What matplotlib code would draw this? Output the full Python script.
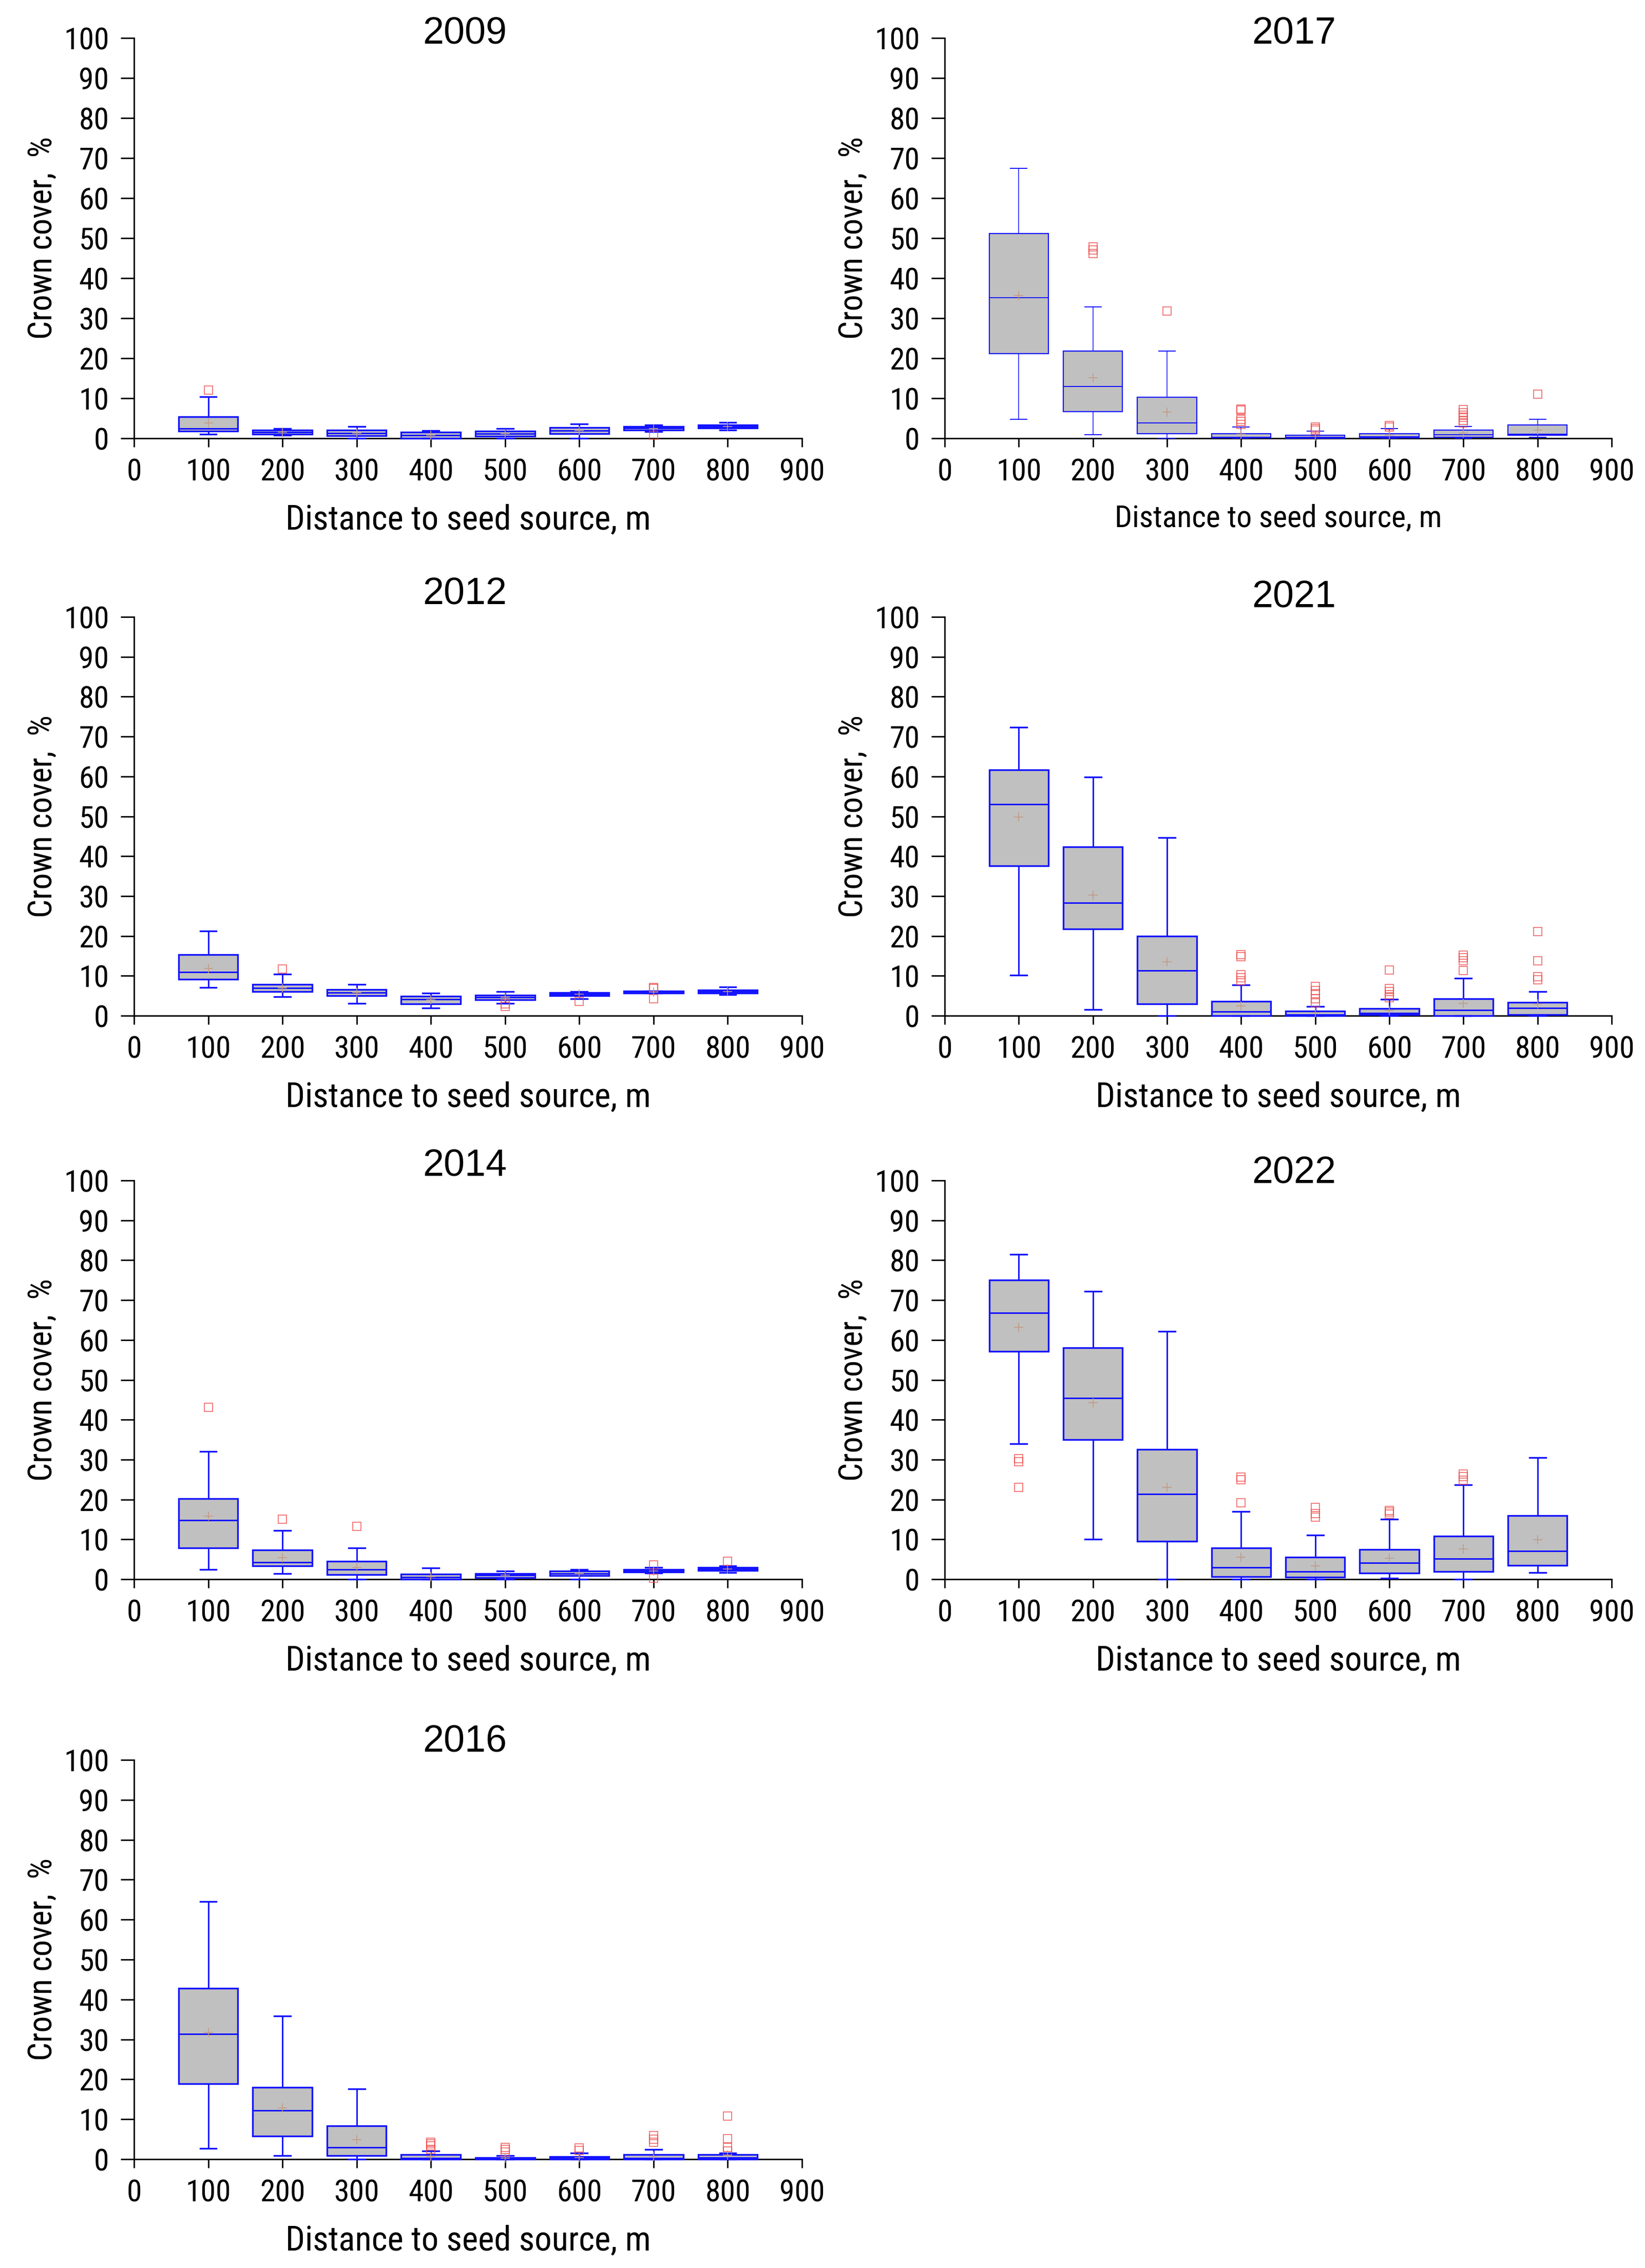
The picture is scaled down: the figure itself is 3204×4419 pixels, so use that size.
import matplotlib
matplotlib.use("Agg")
import matplotlib.pyplot as plt
from matplotlib import font_manager

# distance classes (m)
DIST = [100, 200, 300, 400, 500, 600, 700, 800]

# crown cover (%) box statistics, one list per year
Q1 = {
    2009: [1.8, 1.0, 0.7, 0.0, 0.5, 1.2, 2.1, 2.6],
    2012: [9.1, 6.0, 5.0, 3.0, 4.0, 5.0, 5.6, 5.6],
    2014: [7.9, 3.4, 1.2, 0.0, 0.4, 0.9, 1.8, 2.2],
    2016: [18.9, 5.8, 0.9, 0.0, 0.0, 0.0, 0.0, 0.0],
    2017: [21.1, 6.7, 1.1, 0.1, 0.0, 0.1, 0.3, 0.8],
    2021: [37.6, 21.8, 3.0, 0.0, 0.0, 0.2, 0.0, 0.3],
    2022: [57.1, 35.0, 9.5, 0.7, 0.5, 1.6, 1.9, 3.5],
}
MEDIAN = {
    2009: [2.4, 1.5, 1.3, 0.8, 1.1, 1.9, 2.6, 3.0],
    2012: [10.9, 7.0, 5.8, 4.1, 4.6, 5.4, 5.9, 6.0],
    2014: [14.8, 4.3, 2.4, 0.5, 1.0, 1.4, 2.2, 2.6],
    2016: [31.3, 12.2, 2.9, 0.3, 0.1, 0.2, 0.3, 0.4],
    2017: [35.1, 12.9, 3.8, 0.3, 0.2, 0.4, 0.9, 1.0],
    2021: [53.0, 28.3, 11.3, 1.0, 0.3, 0.6, 1.4, 1.9],
    2022: [66.8, 45.4, 21.3, 3.0, 1.9, 4.1, 5.2, 7.1],
}
Q3 = {
    2009: [5.4, 2.0, 2.0, 1.5, 1.8, 2.7, 3.0, 3.3],
    2012: [15.3, 7.9, 6.5, 4.9, 5.1, 5.8, 6.2, 6.4],
    2014: [20.2, 7.4, 4.5, 1.3, 1.4, 2.0, 2.5, 3.0],
    2016: [42.8, 18.0, 8.3, 1.1, 0.4, 0.6, 1.1, 1.1],
    2017: [51.2, 21.8, 10.2, 1.2, 0.8, 1.2, 2.0, 3.3],
    2021: [61.6, 42.4, 19.9, 3.6, 1.2, 1.8, 4.3, 3.3],
    2022: [75.0, 58.1, 32.6, 7.9, 5.5, 7.5, 10.8, 16.0],
}
WHISK_LO = {
    2009: [1.0, 0.8, 0.0, 0.0, 0.0, 0.0, 1.7, 2.0],
    2012: [7.1, 4.7, 3.1, 1.9, 3.1, 4.3, 5.6, 5.3],
    2014: [2.4, 1.4, 0.0, 0.0, 0.0, 0.0, 1.6, 1.7],
    2016: [2.7, 0.9, 0.0, 0.0, 0.0, 0.0, 0.0, 0.0],
    2017: [4.8, 0.9, 0.0, 0.0, 0.0, 0.0, 0.0, 0.2],
    2021: [10.2, 1.6, 0.0, 0.0, 0.0, 0.0, 0.0, 0.0],
    2022: [34.0, 10.0, 0.0, 0.0, 0.0, 0.3, 0.0, 1.7],
}
WHISK_HI = {
    2009: [10.4, 2.4, 2.9, 1.9, 2.4, 3.6, 3.3, 4.0],
    2012: [21.2, 10.4, 7.8, 5.6, 6.0, 6.0, 6.2, 7.2],
    2014: [32.0, 12.2, 7.9, 2.8, 2.0, 2.4, 2.9, 3.3],
    2016: [64.5, 35.9, 17.6, 2.1, 0.9, 1.5, 2.4, 1.6],
    2017: [67.4, 32.8, 21.8, 2.8, 1.8, 2.4, 3.0, 4.8],
    2021: [72.3, 59.8, 44.7, 7.7, 2.3, 4.1, 9.4, 6.0],
    2022: [81.5, 72.2, 62.1, 17.0, 11.1, 15.0, 23.7, 30.5],
}
MEAN = {
    2009: [3.8, 1.5, 1.3, 0.8, 1.1, 1.9, 2.5, 3.0],
    2012: [11.9, 7.0, 5.8, 4.0, 4.6, 5.4, 5.9, 6.0],
    2014: [15.8, 5.4, 3.0, 0.7, 1.0, 1.4, 2.1, 2.6],
    2016: [31.7, 12.9, 4.9, 0.7, 0.3, 0.4, 0.8, 1.0],
    2017: [35.6, 15.1, 6.5, 1.0, 0.5, 0.8, 1.3, 2.0],
    2021: [49.8, 30.3, 13.5, 2.5, 0.8, 1.3, 3.1, 2.9],
    2022: [63.2, 44.3, 23.1, 5.5, 3.3, 5.3, 7.6, 9.9],
}
OUTLIERS = {
    2009: [[12.1], [], [], [], [], [], [0.8], []],
    2012: [[], [11.7], [], [], [2.3, 3.0], [3.6], [4.2, 6.8, 7.1], []],
    2014: [[43.1], [15.0], [13.2], [], [], [], [0.3, 3.6], [4.5]],
    2016: [[], [], [], [2.5, 3.3, 3.8, 4.3], [1.8, 2.4, 3.0], [2.2, 2.8],
           [4.3, 5.0, 5.9], [2.0, 3.0, 5.1, 10.8]],
    2017: [[], [46.2, 47.0, 47.8], [31.8], [3.5, 4.2, 4.8, 7.0, 7.3],
           [2.0, 2.5, 2.8], [2.8, 3.2], [3.8, 4.5, 5.2, 5.8, 6.4, 7.2], [11.0]],
    2021: [[], [], [], [8.7, 9.5, 10.3, 14.8, 15.3], [3.2, 4.2, 5.5, 6.3, 7.4],
           [4.5, 5.3, 6.0, 6.8, 11.5], [11.3, 13.8, 14.5, 15.2], [9.0, 9.8, 13.8, 21.1]],
    2022: [[23.0, 29.5, 30.3], [], [], [19.2, 25.0, 25.6], [15.6, 16.5, 18.0],
           [16.3, 16.9, 17.2], [24.8, 25.7, 26.4], []],
}

LEFT_YEARS = [2009, 2012, 2014, 2016]
RIGHT_YEARS = [2017, 2021, 2022]

W, H = 3205, 4419
DPI = 100

# the axis text in the source is a narrow grotesque, the titles plain Arial
available = {f.name for f in font_manager.fontManager.ttflist}
NARROW = next((f for f in ["Liberation Sans Narrow", "Roboto Condensed", "Archivo Narrow"]
               if f in available), "Liberation Sans")
REGULAR = "Liberation Sans"

BLUE = "#1414ff"

# axes frames in pixels: (left, right) per column, (top, bottom) per row
COL_X = {0: (261, 1562), 1: (1840, 3139)}
ROW_Y = [(74, 854), (1202, 1979), (2300, 3077), (3429, 4207)]
# title baselines (px from top) and centres
TITLE_Y = {2009: 85, 2012: 1177, 2014: 2291, 2016: 3414, 2017: 86, 2021: 1184, 2022: 2305}
TITLE_X = {0: 905, 1: 2520}


def make_stats(year):
    stats = []
    for i in range(len(DIST)):
        stats.append({
            "q1": Q1[year][i], "med": MEDIAN[year][i], "q3": Q3[year][i],
            "whislo": WHISK_LO[year][i], "whishi": WHISK_HI[year][i],
            "mean": MEAN[year][i], "fliers": OUTLIERS[year][i],
        })
    return stats


def draw_panel(fig, year, col, row):
    x0, x1 = COL_X[col]
    y0, y1 = ROW_Y[row]
    ax = fig.add_axes([x0 / W, 1 - y1 / H, (x1 - x0) / W, (y1 - y0) / H])
    ax_h = y1 - y0
    thin = year == 2017
    lw_box = 1.6 if thin else 2.4
    lw_wh = 1.1 if thin else 2.1

    art = ax.bxp(
        make_stats(year), positions=DIST, widths=80, capwidths=22,
        patch_artist=True, showmeans=True, manage_ticks=False,
        boxprops=dict(facecolor="#c0c0c0", edgecolor=BLUE, linewidth=lw_box),
        whiskerprops=dict(color=BLUE, linewidth=lw_wh),
        capprops=dict(color=BLUE, linewidth=lw_wh + 0.3),
        medianprops=dict(color=BLUE, linewidth=lw_box * 0.9),
        meanprops=dict(marker="+", markeredgecolor="#c09a86", markersize=13,
                       markeredgewidth=1.2, linestyle="none"),
        flierprops=dict(marker="s", markerfacecolor="none", markeredgecolor="#ee4444",
                        markersize=12, markeredgewidth=1.3, alpha=0.75, linestyle="none"),
        zorder=3,
    )
    for group in art.values():
        for a in group:
            a.set_clip_on(False)

    ax.set_xlim(0, 900)
    ax.set_ylim(0, 100)
    ax.set_xticks(range(0, 901, 100))
    ax.set_yticks(range(0, 101, 10))
    for side in ("top", "right"):
        ax.spines[side].set_visible(False)
    for side in ("left", "bottom"):
        ax.spines[side].set_linewidth(2.0)
        ax.spines[side].set_zorder(2.5)
    ax.tick_params(axis="x", direction="out", length=12, width=2.0, pad=15,
                   labelsize=43)
    ax.tick_params(axis="y", direction="out", length=19, width=2.0, pad=16,
                   labelsize=43)
    for lab in ax.get_xticklabels() + ax.get_yticklabels():
        lab.set_fontfamily(NARROW)

    ax.set_xlabel("Distance to seed source, m", fontsize=43 if thin else 48,
                  fontfamily=NARROW, va="baseline")
    ax.xaxis.set_label_coords(0.5, -(172 if thin else 177) / ax_h)
    ax.set_ylabel("Crown cover,  %", fontsize=46, fontfamily=NARROW, va="baseline")
    ax.yaxis.set_label_coords(-160 / (x1 - x0), 0.5)

    fig.text(TITLE_X[col] / W, 1 - TITLE_Y[year] / H, str(year), fontsize=53,
             fontfamily=REGULAR, ha="center", va="baseline")
    return ax


fig = plt.figure(figsize=(W / DPI, H / DPI), dpi=DPI)
for r, yr in enumerate(LEFT_YEARS):
    draw_panel(fig, yr, 0, r)
for r, yr in enumerate(RIGHT_YEARS):
    draw_panel(fig, yr, 1, r)

fig.savefig("out.png", dpi=DPI, facecolor="white")
